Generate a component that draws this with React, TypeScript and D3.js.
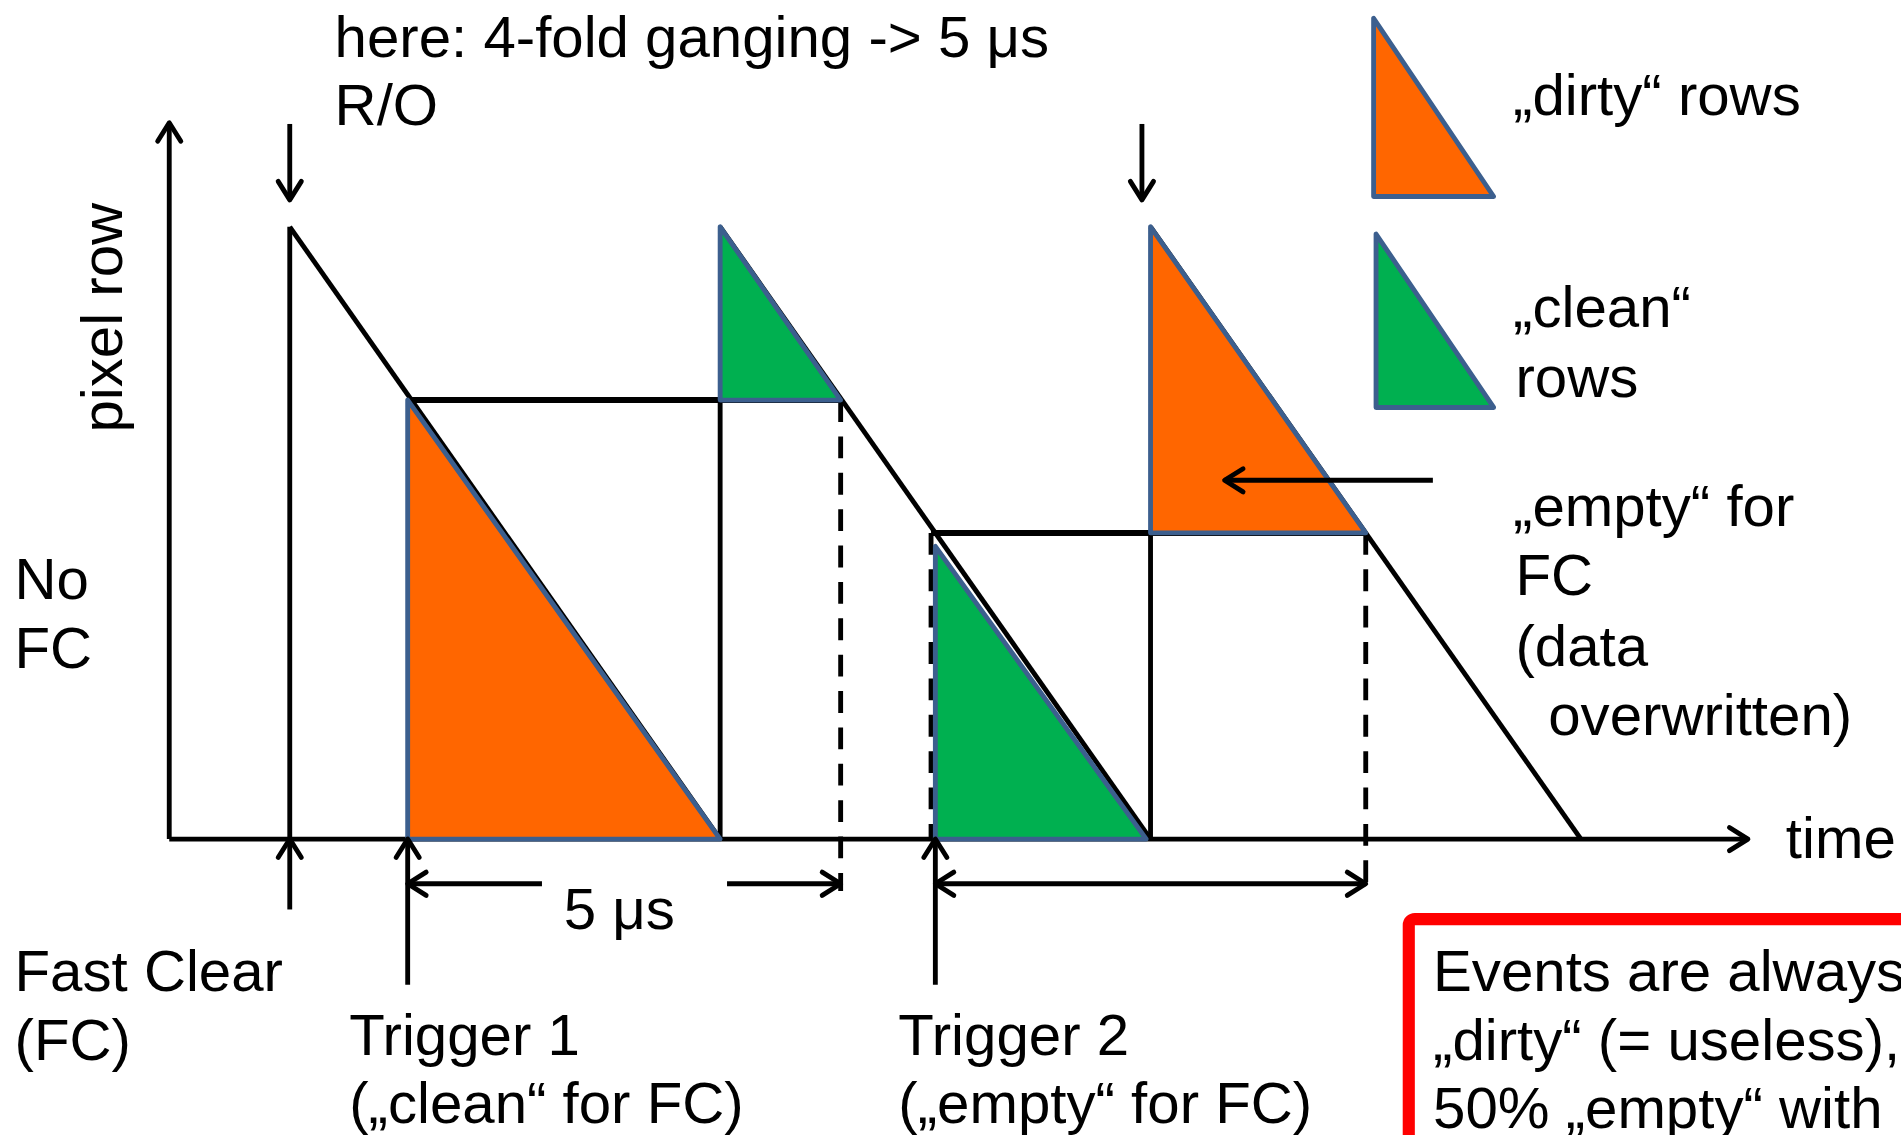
import React from "react";
import * as d3 from "d3";

// ---- data (time in μs, row as fraction of full frame) ----
const readoutStarts = [0, 5, 10];
const readoutLength = 5;
const dirtyTriangles: [number, number][][] = [
  [[1.37, 0.717], [1.37, 0], [5, 0]],
  [[10, 1], [10, 0.5], [12.5, 0.5]],
];
const cleanTriangles: [number, number][][] = [
  [[5, 1], [5, 0.717], [6.4, 0.717]],
  [[7.5, 0.478], [7.5, 0], [9.95, 0]],
];
const holdVerticals = [
  { t: 5, r0: 0, r1: 0.717 },
  { t: 10, r0: 0, r1: 0.5 },
];
const holdHorizontals = [
  { r: 0.717, t0: 1.37, t1: 6.4 },
  { r: 0.5, t0: 7.45, t1: 12.5 },
];
const dashedVerticals = [
  { t: 6.4, r0: -0.085, r1: 0.717 },
  { t: 12.5, r0: -0.085, r1: 0.5 },
  { t: 7.45, r0: 0, r1: 0.5 },
];
type Arrow = { from: [number, number]; to: [number, number]; both?: boolean };
const arrows: Arrow[] = [
  { from: [0, 1.168], to: [0, 1.044] },
  { from: [9.9, 1.168], to: [9.9, 1.044] },
  { from: [0, -0.115], to: [0, 0] },
  { from: [1.37, -0.238], to: [1.37, 0] },
  { from: [7.5, -0.238], to: [7.5, 0] },
  { from: [2.93, -0.073], to: [1.37, -0.073] },
  { from: [5.08, -0.073], to: [6.4, -0.073] },
  { from: [7.5, -0.073], to: [12.5, -0.073], both: true },
  { from: [13.28, 0.586], to: [10.86, 0.586] },
];
const axisT = [-1.4, 16.94];
const axisR = [0, 1.17];

const ORANGE = "#FF6600";
const GREEN = "#00B050";
const EDGE = "#3C5F8E";
const FONT = "'Liberation Sans', Arial, sans-serif";

const x = d3.scaleLinear().domain([0, 15]).range([239, 1304]);
const y = d3.scaleLinear().domain([0, 1]).range([692, 187]);

function head(x1: number, y1: number, x2: number, y2: number) {
  const a = Math.atan2(y2 - y1, x2 - x1);
  const L = 18, w = 0.56;
  const p1 = [x2 - L * Math.cos(a - w), y2 - L * Math.sin(a - w)];
  const p2 = [x2 - L * Math.cos(a + w), y2 - L * Math.sin(a + w)];
  return `M${p1[0]},${p1[1]}L${x2},${y2}L${p2[0]},${p2[1]}`;
}

function ArrowEl({ a }: { a: Arrow }) {
  const x1 = x(a.from[0]), y1 = y(a.from[1]), x2 = x(a.to[0]), y2 = y(a.to[1]);
  return (
    <g stroke="#000" strokeWidth={4} fill="none" strokeLinecap="round" strokeLinejoin="round">
      <line x1={x1} y1={y1} x2={x2} y2={y2} strokeLinecap="butt" />
      <path d={head(x1, y1, x2, y2)} />
      {a.both && <path d={head(x2, y2, x1, y1)} />}
    </g>
  );
}

const tri = d3.line<[number, number]>().x((d) => x(d[0])).y((d) => y(d[1]));

export default function App() {
  const txt = { fontFamily: FONT, fontSize: 48, fill: "#000" } as const;
  return (
    <div style={{ position: "absolute", left: 0, top: 0, width: 1901, height: 1135, overflow: "hidden", background: "#fff" }}>
      <svg width={1901} height={1135} viewBox="0 0 1568 936">
        <rect x={0} y={0} width={1568} height={936} fill="#fff" />
        {/* axes */}
        <g stroke="#000" strokeWidth={4} fill="none" strokeLinejoin="round">
          <line x1={x(axisT[0])} y1={y(0)} x2={x(axisT[1])} y2={y(0)} />
          <path d={head(x(axisT[0]), y(0), x(axisT[1]), y(0))} strokeLinecap="round" />
          <line x1={x(axisT[0])} y1={y(axisR[0])} x2={x(axisT[0])} y2={y(axisR[1])} />
          <path d={head(x(axisT[0]), y(axisR[0]), x(axisT[0]), y(axisR[1]))} strokeLinecap="round" />
        </g>
        {/* readout ramps */}
        <g stroke="#000" strokeWidth={4} fill="none">
          {readoutStarts.map((s, i) => (
            <line key={"r" + i} x1={x(s)} y1={y(1)} x2={x(s + readoutLength)} y2={y(0)} />
          ))}
          <line x1={x(readoutStarts[0])} y1={y(0)} x2={x(readoutStarts[0])} y2={y(1)} />
          {holdVerticals.map((v, i) => (
            <line key={"v" + i} x1={x(v.t)} y1={y(v.r0)} x2={x(v.t)} y2={y(v.r1)} />
          ))}
          {holdHorizontals.map((h, i) => (
            <line key={"h" + i} x1={x(h.t0)} y1={y(h.r)} x2={x(h.t1)} y2={y(h.r)} strokeWidth={5} />
          ))}
          {dashedVerticals.map((v, i) => (
            <line key={"d" + i} x1={x(v.t)} y1={y(v.r1)} x2={x(v.t)} y2={y(v.r0)} strokeDasharray="18 12" />
          ))}
        </g>
        {/* triangles */}
        {dirtyTriangles.map((t, i) => (
          <path key={"dt" + i} d={tri(t)! + "Z"} fill={ORANGE} stroke={EDGE} strokeWidth={4} strokeLinejoin="round" />
        ))}
        {cleanTriangles.map((t, i) => (
          <path key={"ct" + i} d={tri(t)! + "Z"} fill={GREEN} stroke={EDGE} strokeWidth={4} strokeLinejoin="round" />
        ))}
        {/* arrows */}
        {arrows.map((a, i) => <ArrowEl key={"a" + i} a={a} />)}
        {/* legend */}
        <path d="M1133,15L1133,162L1232,162Z" fill={ORANGE} stroke={EDGE} strokeWidth={4} strokeLinejoin="round" />
        <path d="M1135,193L1135,336L1232,336Z" fill={GREEN} stroke={EDGE} strokeWidth={4} strokeLinejoin="round" />
        {/* red box */}
        <rect x={1162} y={758} width={480} height={260} rx={5} fill="none" stroke="#FF0000" strokeWidth={10} />
        {/* texts */}
        <g style={txt}>
          <text x={276} y={47}>here: 4-fold ganging -&gt; 5 μs</text>
          <text x={276} y={103}>R/O</text>
          <text transform="translate(101,262) rotate(-90)" textAnchor="middle">pixel row</text>
          <text x={12} y={494}>No</text>
          <text x={12} y={551}>FC</text>
          <text x={12} y={817}>Fast Clear</text>
          <text x={12} y={874}>(FC)</text>
          <text x={288} y={870}>Trigger 1</text>
          <text x={288} y={926}>(„clean“ for FC)</text>
          <text x={741} y={870}>Trigger 2</text>
          <text x={741} y={926}>(„empty“ for FC)</text>
          <text x={465} y={766}>5 μs</text>
          <text x={1473} y={708}>time</text>
          <text x={1248} y={95}>„dirty“ rows</text>
          <text x={1248} y={270}>„clean“</text>
          <text x={1250} y={327}>rows</text>
          <text x={1248} y={434}>„empty“ for</text>
          <text x={1250} y={491}>FC</text>
          <text x={1250} y={549}>(data</text>
          <text x={1277} y={606}>overwritten)</text>
          <text x={1182} y={817}>Events are always</text>
          <text x={1182} y={874}>„dirty“ (= useless),</text>
          <text x={1182} y={930}>50% „empty“ with</text>
        </g>
      </svg>
    </div>
  );
}
